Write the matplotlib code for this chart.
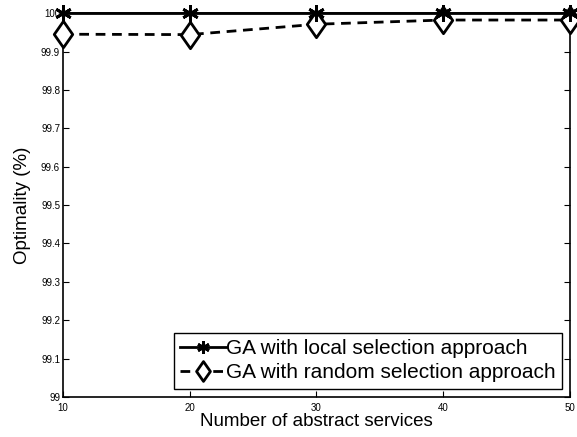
import matplotlib
matplotlib.use('Agg')
import matplotlib.pyplot as plt
from matplotlib.path import Path

plt.rcParams['font.family'] = ['Liberation Sans', 'DejaVu Sans']

# data
services = [10, 20, 30, 40, 50]
local_sel = [100.0, 100.0, 100.0, 100.0, 100.0]
random_sel = [99.945, 99.944, 99.971, 99.982, 99.982]
yticks = [99, 99.1, 99.2, 99.3, 99.4, 99.5, 99.6, 99.7, 99.8, 99.9, 100]
ytick_labels = ['99', '99.1', '99.2', '99.3', '99.4', '99.5', '99.6', '99.7', '99.8', '99.9', '100']

# matlab-ish tall diamond
diamond = Path([(0, 1), (0.7, 0), (0, -1), (-0.7, 0), (0, 1)],
               [Path.MOVETO, Path.LINETO, Path.LINETO, Path.LINETO, Path.CLOSEPOLY])

fig = plt.figure(figsize=(5.77, 4.37), dpi=100)
ax = fig.add_axes([0.109, 0.0915, 0.879, 0.8785])

ax.plot(services, local_sel, 'k-', lw=2, marker=(6, 2, 0), ms=12, mew=2,
        label='GA with local selection approach', clip_on=False, zorder=4)
ax.plot(services, random_sel, color='k', ls=(0, (3.5, 2.4)), lw=2, marker=diamond,
        ms=19, mew=2, mfc='white',
        label='GA with random selection approach', clip_on=False, zorder=3)

ax.set_xlim(10, 50)
ax.set_ylim(99, 100)
ax.set_xticks(services)
ax.set_yticks(yticks)
ax.set_yticklabels(ytick_labels)
ax.tick_params(direction='in', top=True, right=True, labelsize=7, length=4)
ax.tick_params(axis='x', pad=4)
ax.tick_params(axis='y', pad=2)
for s in ax.spines.values():
    s.set_linewidth(1.2)

ax.set_xlabel('Number of abstract services', fontsize=13.5, labelpad=0)
ax.set_ylabel('Optimality (%)', fontsize=13.5, labelpad=7)

leg = ax.legend(loc='lower right', fontsize=15, fancybox=False, framealpha=1,
                edgecolor='black', handlelength=2.2, handletextpad=0.0,
                borderpad=0.3, labelspacing=0.25, borderaxespad=0.4,
                markerscale=0.75)
leg.get_frame().set_linewidth(1.0)

fig.savefig('out.png', dpi=100)
